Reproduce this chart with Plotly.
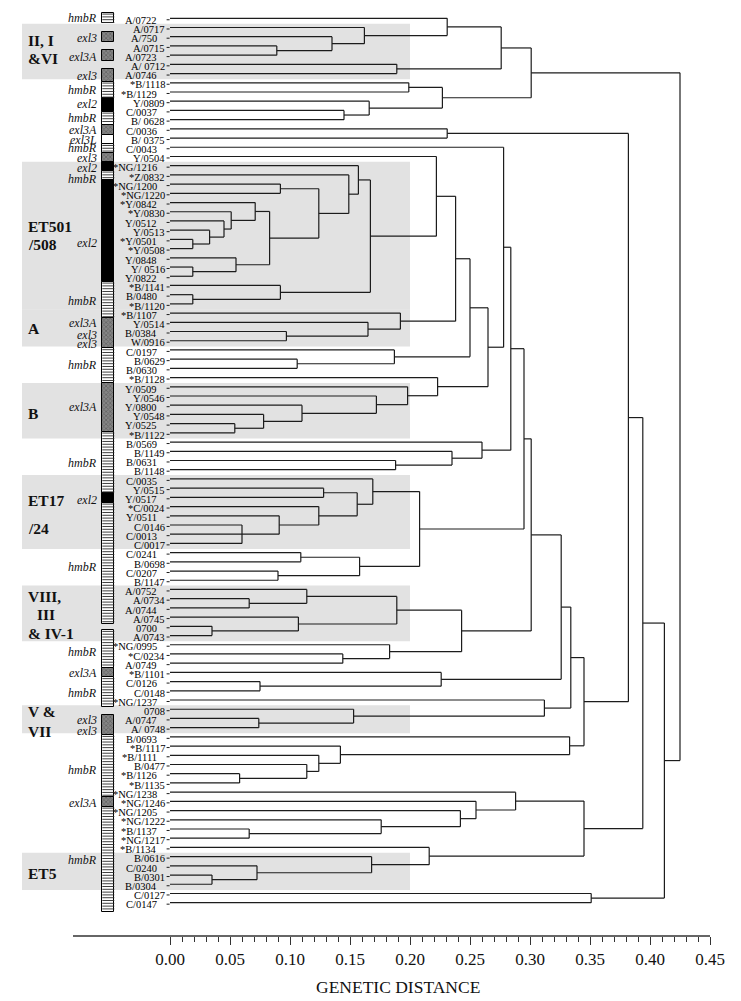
import plotly.graph_objects as go

# ---------------- data ----------------
leaf_labels = ["A/0722", "A/0717", "A/750", "A/0715", "A/0723", "A/ 0712", "A/0746",
               "*B/1118", "*B/1129", "Y/0809", "C/0037", "B/ 0628", "C/0036", "B/ 0375",
               "C/0043", "Y/0504", "*NG/1216", "*Z/0832", "*NG/1200", "*NG/1220", "*Y/0842",
               "*Y/0830", "Y/0512", "Y/0513", "*Y/0501", "*Y/0508", "Y/0848", "Y/ 0516",
               "Y/0822", "*B/1141", "B/0480", "*B/1120", "*B/1107", "Y/0514", "B/0384",
               "W/0916", "C/0197", "B/0629", "B/0630", "*B/1128", "Y/0509", "Y/0546",
               "Y/0800", "Y/0548", "Y/0525", "*B/1122", "B/0569", "B/1149", "B/0631",
               "B/1148", "C/0035", "Y/0515", "Y/0517", "*C/0024", "Y/0511", "C/0146",
               "C/0013", "C/0017", "C/0241", "B/0698", "C/0207", "B/1147", "A/0752",
               "A/0734", "A/0744", "A/0745", "0700", "A/0743", "*NG/0995", "*C/0234",
               "A/0749", "*B/1101", "C/0126", "C/0148", "*NG/1237", "0708", "A/0747",
               "A/ 0748", "B/0693", "*B/1117", "*B/1111", "B/0477", "*B/1126", "*B/1135",
               "*NG/1238", "*NG/1246", "*NG/1205", "*NG/1222", "*B/1137", "*NG/1217",
               "*B/1134", "B/0616", "C/0240", "B/0301", "B/0304", "C/0127", "C/0147"]

# merges: (node, children (leaf numbers 1..97 or earlier nodes), genetic distance)
merges = [
    ("n1", [4, 5], 0.089), ("n2", [3, "n1"], 0.135), ("n3", [2, "n2"], 0.162),
    ("n4", [1, "n3"], 0.231), ("n5", [6, 7], 0.189), ("n6", ["n4", "n5"], 0.276),
    ("n7", [8, 9], 0.199), ("n8", [11, 12], 0.145), ("n9", [10, "n8"], 0.166),
    ("n10", ["n7", "n9"], 0.227), ("n11", ["n6", "n10"], 0.301), ("n12", [13, 14], 0.231),
    ("n13", [25, 26], 0.019), ("n14", [24, "n13"], 0.033), ("n15", [23, "n14"], 0.045),
    ("n16", [22, "n15"], 0.051), ("n17", [21, "n16"], 0.071), ("n18", [28, 29], 0.019),
    ("n19", [27, "n18"], 0.055), ("n20", ["n17", "n19"], 0.083), ("n21", [19, 20], 0.092),
    ("n22", ["n21", "n20"], 0.124), ("n23", [18, "n22"], 0.149), ("n24", [17, "n23"], 0.157),
    ("n25", [31, 32], 0.019), ("n26", [30, "n25"], 0.092), ("n27", ["n24", "n26"], 0.167),
    ("n28", [16, "n27"], 0.222), ("n29", [35, 36], 0.097), ("n30", [34, "n29"], 0.165),
    ("n31", [33, "n30"], 0.192), ("n32", ["n28", "n31"], 0.238), ("n33", [38, 39], 0.106),
    ("n34", [37, "n33"], 0.187), ("n35", ["n32", "n34"], 0.250), ("n36", [45, 46], 0.054),
    ("n37", [44, "n36"], 0.078), ("n38", [43, "n37"], 0.110), ("n39", [42, "n38"], 0.172),
    ("n40", [41, "n39"], 0.198), ("n41", [40, "n40"], 0.223), ("n42", ["n35", "n41"], 0.265),
    ("n43", [15, "n42"], 0.278), ("n44", [49, 50], 0.188), ("n45", [48, "n44"], 0.235),
    ("n46", [47, "n45"], 0.260), ("n47", ["n43", "n46"], 0.284),
    ("n48", [56, 57, 58], 0.060), ("n49", [55, "n48"], 0.091), ("n50", [54, "n49"], 0.124),
    ("n51", [52, 53], 0.128), ("n52", ["n51", "n50"], 0.156), ("n53", [51, "n52"], 0.169),
    ("n54", [59, 60], 0.109), ("n55", [61, 62], 0.090), ("n56", ["n54", "n55"], 0.158),
    ("n57", ["n53", "n56"], 0.208), ("n58", ["n47", "n57"], 0.295),
    ("n59", [64, 65], 0.066), ("n60", [63, "n59"], 0.114), ("n61", [67, 68], 0.035),
    ("n62", [66, "n61"], 0.107), ("n63", ["n60", "n62"], 0.189), ("n64", [70, 71], 0.144),
    ("n65", [69, "n64"], 0.183), ("n66", ["n63", "n65"], 0.243), ("n67", ["n58", "n66"], 0.301),
    ("n68", [73, 74], 0.075), ("n69", [72, "n68"], 0.226), ("n70", ["n67", "n69"], 0.326),
    ("n71", [77, 78], 0.074), ("n72", [76, "n71"], 0.153), ("n73", [75, "n72"], 0.312),
    ("n74", ["n70", "n73"], 0.334), ("n75", [83, 84], 0.058), ("n76", [82, "n75"], 0.114),
    ("n77", [81, "n76"], 0.124), ("n78", [80, "n77"], 0.142), ("n79", [79, "n78"], 0.333),
    ("n80", ["n74", "n79"], 0.345), ("n81", ["n12", "n80"], 0.382),
    ("n82", [89, 90], 0.066), ("n83", [88, "n82"], 0.176), ("n84", [87, "n83"], 0.242),
    ("n85", [86, "n84"], 0.255), ("n86", [85, "n85"], 0.288), ("n87", [94, 95], 0.035),
    ("n88", [93, "n87"], 0.0725), ("n89", [92, "n88"], 0.168), ("n90", [91, "n89"], 0.216),
    ("n91", ["n86", "n90"], 0.345), ("n92", ["n81", "n91"], 0.394), ("n93", [96, 97], 0.351),
    ("n94", ["n92", "n93"], 0.412), ("n95", ["n11", "n94"], 0.425),
]

# allele column: (allele, from, to) in leaf-row units
allele_segments = [
    ("hmbR", 0.39, 1.54), ("exl3", 2.45, 3.54), ("exl3A", 4.44, 5.60), ("exl3", 6.54, 7.88),
    ("hmbR", 7.88, 9.68), ("exl2", 9.68, 11.14), ("hmbR", 11.14, 12.58), ("exl3A", 12.58, 13.67),
    ("exl3L", 13.67, 14.65), ("hmbR", 14.65, 15.65), ("exl3", 15.65, 16.63), ("exl2", 16.63, 17.54),
    ("hmbR", 17.54, 18.55), ("exl2", 18.55, 29.59), ("hmbR", 29.59, 33.56), ("exl3", 33.56, 36.82),
    ("hmbR", 36.82, 40.62), ("exl3A", 40.62, 45.87), ("hmbR", 45.87, 52.56), ("exl2", 52.56, 53.58),
    ("hmbR", 53.58, 66.75), ("hmbR", 67.40, 71.56), ("exl3A", 71.56, 72.53), ("hmbR", 72.53, 75.72),
    ("exl3", 76.63, 78.80), ("hmbR", 78.80, 85.49), ("exl3A", 85.49, 86.58), ("hmbR", 86.58, 98.01),
]

allele_labels = [
    ("hmbR", 0.97), ("exl3", 3.14), ("exl3A", 5.2), ("exl3", 7.26), ("hmbR", 8.78),
    ("exl2", 10.3), ("hmbR", 11.82), ("exl3A", 13.12), ("exl3L", 14.2), ("hmbR", 15.08),
    ("exl3", 16.16), ("exl2", 17.25), ("hmbR", 18.45), ("exl2", 25.42), ("hmbR", 31.65),
    ("exl3A", 34.11), ("exl3", 35.38), ("exl3", 36.36), ("hmbR", 38.64), ("exl3A", 43.23),
    ("hmbR", 49.3), ("exl2", 53.3), ("hmbR", 60.53), ("hmbR", 69.76), ("exl3A", 72.04),
    ("hmbR", 74.27), ("exl3", 77.17), ("exl3", 78.33), ("hmbR", 82.6), ("exl3A", 86.22),
    ("hmbR", 92.37),
]

group_spans = [(2, 7), (17, 32), (33, 36), (41, 46), (51, 58), (63, 68), (76, 78), (92, 95)]
group_text = [("II, I", 3.36), ("&VI", 5.31), ("ET501", 23.62), ("/508", 25.6), ("A", 34.65),
              ("B", 43.88), ("ET17", 53.29), ("/24", 56.36), ("VIII,", 63.78), ("III", 65.77),
              ("& IV-1", 67.76), ("V &", 76.27), ("VII", 78.44), ("ET5", 93.78)]

tick_values = [0.00, 0.05, 0.10, 0.15, 0.20, 0.25, 0.30, 0.35, 0.40, 0.45]
tick_labels = ["%.2f" % v for v in tick_values]
minor_ticks = [k / 100 for k in range(46) if k % 5]

# ---------------- geometry helpers ----------------
PX = 1200.0          # pixels per distance unit
X0 = 170.0           # pixel of distance 0
ROW = 9.2125         # pixels per leaf row
def dx(px):
    return (px - X0) / PX

n_leaf = len(leaf_labels)
SERIF = "Liberation Serif, Times New Roman, serif"
LINE = "#1c1c1c"
BAR_L, BAR_R = dx(102.3), dx(114.3)

fig = go.Figure()

# shaded groups
for a, b in group_spans:
    fig.add_shape(type="rect", xref="x", yref="y", x0=dx(22), x1=0.2,
                  y0=a - 0.42, y1=b + 0.62, fillcolor="#e2e2e2",
                  line_width=0, layer="below")

# allele column as bars
style = {
    "hmbR": ("white", ""),
    "exl3": ("#858585", "x"),
    "exl3A": ("#858585", "x"),
    "exl2": ("black", ""),
    "exl3L": ("white", ""),
}
centers = [(s + e) / 2 for _, s, e in allele_segments]
thick = [e - s for _, s, e in allele_segments]
fig.add_trace(go.Bar(
    orientation="h", y=centers, width=thick,
    x=[BAR_R - BAR_L] * len(centers), base=BAR_L,
    marker=dict(
        color=[style[a][0] for a, _, _ in allele_segments],
        pattern=dict(shape=[style[a][1] for a, _, _ in allele_segments],
                     fgcolor="#111111", size=3, solidity=0.45, fillmode="overlay"),
        line=dict(color="black", width=1)),
    hoverinfo="skip", showlegend=False))

# horizontal stripes inside hmbR blocks
sx, sy = [], []
step = 2.8 / ROW
for a, s, e in allele_segments:
    if a != "hmbR":
        continue
    yv = s + step / 2
    while yv < e - 0.08:
        sx += [BAR_L, BAR_R, None]
        sy += [yv, yv, None]
        yv += step
fig.add_trace(go.Scatter(x=sx, y=sy, mode="lines", line=dict(color="#2a2a2a", width=0.9),
                         hoverinfo="skip", showlegend=False))

# dendrogram
pos_y = {i + 1: float(i + 1) for i in range(n_leaf)}
pos_x = {i + 1: 0.0 for i in range(n_leaf)}
xs, ys = [], []
for name, kids, h in merges:
    kys = [pos_y[k] for k in kids]
    for k in kids:
        xs += [pos_x[k], h, None]
        ys += [pos_y[k], pos_y[k], None]
    xs += [h, h, None]
    ys += [min(kys), max(kys), None]
    pos_y[name] = (min(kys) + max(kys)) / 2
    pos_x[name] = h
fig.add_trace(go.Scatter(x=xs, y=ys, mode="lines",
                         line=dict(color=LINE, width=1.2),
                         hoverinfo="skip", showlegend=False))

# little dashes after labels
dxs, dys = [], []
for i in range(1, n_leaf + 1):
    dxs += [dx(166.6), dx(169.6), None]
    dys += [i + 0.16, i + 0.16, None]
fig.add_trace(go.Scatter(x=dxs, y=dys, mode="lines",
                         line=dict(color=LINE, width=1),
                         hoverinfo="skip", showlegend=False))

ann = []
for i, lab in enumerate(leaf_labels, start=1):
    right = 158.5 if i % 2 == 1 else 166.5
    ann.append(dict(x=dx(right), y=i, xref="x", yref="y", text=lab,
                    xanchor="right", yanchor="middle", showarrow=False,
                    yshift=-2.2, font=dict(family=SERIF, size=10.5, color="black")))
for txt, yv in allele_labels:
    ann.append(dict(x=dx(98.5), y=yv, xref="x", yref="y", text="<i>%s</i>" % txt,
                    xanchor="right", yanchor="middle", showarrow=False,
                    font=dict(family=SERIF, size=12, color="#111")))
for txt, yv in group_text:
    left = 35 if txt == "III" else 26
    ann.append(dict(x=dx(left), y=yv, xref="x", yref="y", text="<b>%s</b>" % txt,
                    xanchor="left", yanchor="middle", showarrow=False,
                    font=dict(family=SERIF, size=15.5, color="#111")))
ann.append(dict(x=dx(398), y=0, xref="x", yref="paper", text="GENETIC DISTANCE",
                xanchor="center", yanchor="middle", showarrow=False, yshift=-50.7,
                font=dict(family=SERIF, size=17.5, color="#111")))

# axis baseline
fig.add_shape(type="line", xref="x", yref="paper", x0=dx(73), x1=0.45, y0=0, y1=0,
              line=dict(color="#333", width=1.6))

y_top = 1 - 18.3 / ROW
y_bot = 1 + (936 - 18.3) / ROW

fig.update_layout(
    width=741, height=1001,
    margin=dict(l=0, r=0, t=0, b=65, autoexpand=False),
    paper_bgcolor="white", plot_bgcolor="white",
    annotations=ann, showlegend=False, bargap=0,
    xaxis=dict(range=[dx(0), dx(741)], tickvals=tick_values, ticktext=tick_labels,
               ticks="outside", ticklen=8, tickwidth=1.2, tickcolor="#333",
               ticklabelstandoff=0,
               tickfont=dict(family=SERIF, size=17, color="#111"),
               showgrid=False, zeroline=False, showline=False,
               minor=dict(tickvals=minor_ticks, ticks="outside", ticklen=5,
                          tickwidth=1, tickcolor="#333", showgrid=False)),
    yaxis=dict(range=[y_bot, y_top], visible=False, showgrid=False, zeroline=False),
)

fig.write_html("out.html", config={"displayModeBar": False},
               post_script="document.body.style.margin='0';")
